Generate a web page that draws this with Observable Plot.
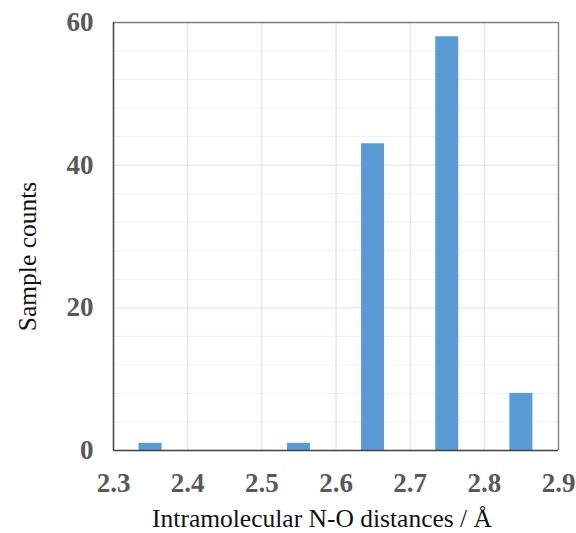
<!DOCTYPE html>
<html>
<head>
<meta charset="utf-8">
<script src="https://cdn.jsdelivr.net/npm/d3@7"></script>
<script src="https://cdn.jsdelivr.net/npm/@observablehq/plot@0.6"></script>
<style>
  body { margin: 0; background: #fff; }
</style>
</head>
<body>
<div id="chart"></div>
<script>
const binCenters = [2.35, 2.45, 2.55, 2.65, 2.75, 2.85];
const counts = [1, 0, 1, 43, 58, 8];
const xTicks = [2.3, 2.4, 2.5, 2.6, 2.7, 2.8, 2.9];
const yTicks = [0, 20, 40, 60];
const yMinor = [4, 8, 12, 16, 24, 28, 32, 36, 44, 48, 52, 56];
const xLabel = "Intramolecular N-O distances / Å";
const yLabel = "Sample counts";
const barHalfWidth = 0.0155;

const data = binCenters.map((c, i) => ({x: c, count: counts[i]})).filter(d => d.count > 0);

const tickFont = {fontFamily: "Liberation Serif", fontWeight: "bold", fontSize: 26, fill: "#595959"};

const chart = Plot.plot({
  width: 576,
  height: 533,
  marginLeft: 113,
  marginRight: 18,
  marginTop: 22,
  marginBottom: 83,
  style: {fontFamily: "Liberation Serif", background: "#fff"},
  x: {domain: [2.3, 2.9]},
  y: {domain: [0, 60]},
  marks: [
    Plot.gridY(yMinor, {stroke: "#f0f0f0", strokeOpacity: 1}),
    Plot.gridY(yTicks, {stroke: "#e3e3e3", strokeOpacity: 1}),
    Plot.gridX(xTicks, {stroke: "#e0e0e0", strokeOpacity: 1}),
    Plot.rectY(data, {x1: d => d.x - barHalfWidth, x2: d => d.x + barHalfWidth, y: "count", fill: "#5b9bd5"}),
    Plot.ruleX([2.9], {stroke: "#8c8c8c", strokeWidth: 1.5}),
    Plot.ruleY([60], {stroke: "#7f7f7f", strokeWidth: 1.5}),
    Plot.ruleX([2.3], {stroke: "#404040", strokeWidth: 1.5}),
    Plot.ruleY([0], {stroke: "#404040", strokeWidth: 1.5}),
    Plot.axisX(xTicks, {tickSize: 0, tickPadding: 22, tickFormat: d3.format(".1f"), label: null, ...tickFont}),
    Plot.axisY(yTicks, {tickSize: 0, tickPadding: 20, label: null, ...tickFont}),
    Plot.text([xLabel], {frameAnchor: "bottom", dx: -14, dy: 68, lineAnchor: "middle", textAnchor: "middle", fontSize: 25.5, fill: "#111", fontFamily: "Liberation Serif"}),
    Plot.text([yLabel], {frameAnchor: "left", dx: -86, dy: 20, rotate: -90, textAnchor: "middle", lineAnchor: "middle", fontSize: 25.5, fill: "#111", fontFamily: "Liberation Serif"})
  ]
});
d3.select(chart).selectAll('g[aria-label="x-axis tick label"], g[aria-label="y-axis tick label"]')
  .style("font-size", "27px").style("font-weight", "bold").style("font-family", "Liberation Serif");
document.getElementById("chart").append(chart);
</script>
</body>
</html>
